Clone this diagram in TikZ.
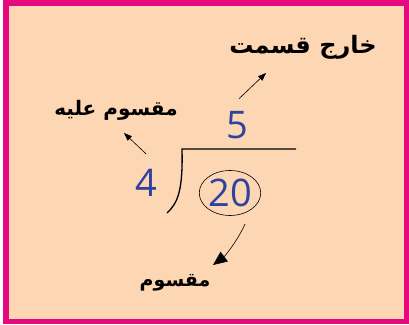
\documentclass[tikz,border=0pt]{standalone}
\usepackage{fontspec}
\usetikzlibrary{arrows.meta,shapes.geometric}
\TeXXeTstate=1
\newfontfamily\urdufont[Script=Arabic]{DejaVu Sans}
\newfontfamily\digitfont{Open Sans}
\definecolor{peach}{HTML}{FDD6B3}
\definecolor{framepink}{HTML}{E5097F}
\definecolor{digitblue}{HTML}{2E43A0}

\begin{document}
\begin{tikzpicture}[x=1pt,y=-1pt,
  urdu/.style={font=\urdufont\bfseries\fontsize{20}{24}\selectfont,inner sep=0pt},
  digit/.style={font=\digitfont\fontsize{38}{40}\selectfont,text=digitblue},
  pointer/.style={-{Triangle[length=8pt,width=6pt]},line width=0.6pt},
  bigpointer/.style={-{Triangle[length=14pt,width=12pt]},line width=0.6pt}]
\useasboundingbox (0,0) rectangle (409,324);
\fill[white] (0,0) rectangle (409,324);
\draw[framepink,line width=5.5pt,fill=peach] (5.75,2.75) rectangle (406.25,321.25);

% numbers
\node[digit] (quot) at (237,125) {5};
\node[digit] (divisor) at (146,183) {4};
\node[digit,ellipse,draw=black,line width=0.6pt,inner sep=0pt,
  minimum width=60pt,minimum height=45pt] (dividend) at (230,193) {20};

% division sign
\draw[line width=1.3pt] (296,149) -- (182,149)
  .. controls (183,190) and (178,203) .. (167,213);

% labels
\node[urdu,font=\urdufont\bfseries\fontsize{24}{28}\selectfont] (quotlabel) at (303,47) {\beginR خارج قسمت\endR};
\node[urdu] (divlabel) at (116,110) {\beginR مقسوم علیه\endR};
\node[urdu,font=\urdufont\bfseries\fontsize{19}{22}\selectfont] (dividendlabel) at (175,283) {\beginR مقسوم\endR};

\coordinate (quottip) at (266,73);
\coordinate (divtip) at (124,133);
\coordinate (dividendtip) at (213,265);

% pointers
\draw[pointer] ([shift={(2,-9)}]quot.north) -- (quottip);
\draw[pointer] ([shift={(0,-12)}]divisor.north) -- (divtip);
\draw[bigpointer] ([shift={(7,9)}]dividend.-70)
  .. controls (238,240) and (225,256) .. (dividendtip);
\end{tikzpicture}
\end{document}
